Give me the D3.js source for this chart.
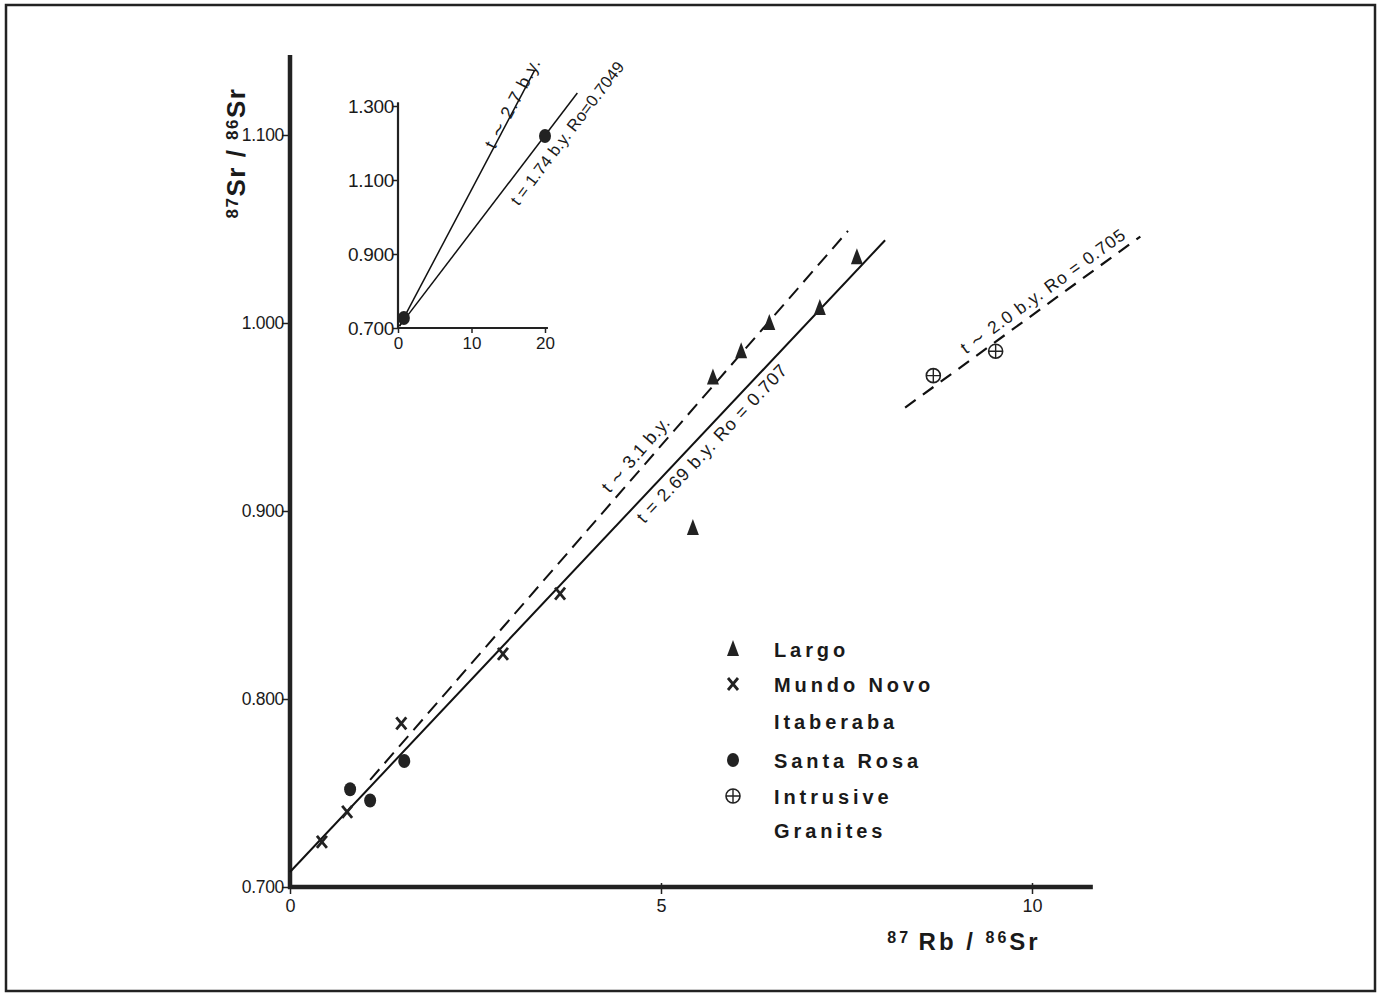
<!DOCTYPE html>
<html>
<head>
<meta charset="utf-8">
<script src="https://cdn.jsdelivr.net/npm/d3@7"></script>
<style>
  body { margin: 0; background: #fff; }
  text { font-family: "Liberation Sans", Arial, sans-serif; fill: #1a1a1a; }
</style>
</head>
<body>
<div id="chart"></div>
<script>
// values
let largo = [[5.43, 0.891], [5.70, 0.971], [6.08, 0.985], [6.46, 1.000], [7.14, 1.008], [7.64, 1.035]]
let mundoNovo = [[0.43, 0.724], [0.77, 0.740], [1.50, 0.787], [2.87, 0.824], [3.64, 0.856]]
let santaRosa = [[0.81, 0.752], [1.08, 0.746], [1.54, 0.767]]
let granites = [[8.67, 0.972], [9.51, 0.985]]

let solidLine = [[0, 0.708], [8.02, 1.044]]
let dashedLine = [[1.08, 0.757], [7.52, 1.049]]
let graniteLine = [[8.29, 0.955], [11.46, 1.046]]

let xTicks = [0, 5, 10]
let yTicks = [0.7, 0.8, 0.9, 1.0, 1.1]
let yTickLabels = ["0.700", "0.800", "0.900", "1.000", "1.100"]

// inset (Santa Rosa whole range)
let insetPoints = [[0.8, 0.727], [20, 1.219]]
let insetLine1 = [[0.2, 0.705], [18.6, 1.397]]
let insetLine2 = [[0.2, 0.705], [24.4, 1.335]]
let insetXTicks = [0, 10, 20]
let insetYTicks = [0.7, 0.9, 1.1, 1.3]
let insetYTickLabels = ["0.700", "0.900", "1.100", "1.300"]

let legendNames = ["Largo", "Mundo Novo", "Itaberaba", "Santa Rosa", "Intrusive", "Granites"]
let legendSymbols = ["tri", "x", null, "dot", "granite", null]

let W = 1384, H = 993
let svg = d3.select("#chart").append("svg")
    .attr("width", W)
    .attr("height", H)

// frame
svg.append("rect")
    .attr("x", 6).attr("y", 5)
    .attr("width", 1369).attr("height", 986)
    .attr("fill", "none")
    .attr("stroke", "#222")
    .attr("stroke-width", 2.5)

let x = d3.scaleLinear().domain([0, 10]).range([290, 1032])
let y = d3.scaleLinear().domain([0.7, 1.1]).range([887, 135])

// axes
let xAxis = d3.axisBottom(x).tickValues(xTicks).tickSize(7).tickFormat(d3.format("d"))
let gx = svg.append("g")
    .attr("transform", "translate(0," + y(0.7) + ")")
    .call(xAxis)
gx.select(".domain").remove()
gx.selectAll("line").attr("stroke", "#222").attr("stroke-width", 1.5).attr("y1", -4)
gx.selectAll("text").attr("font-size", 18).attr("dy", "0.9em").attr("y", 9)
svg.append("line")
    .attr("x1", x(0) - 2).attr("x2", x(10.82))
    .attr("y1", y(0.7)).attr("y2", y(0.7))
    .attr("stroke", "#222").attr("stroke-width", 4.5)

let yAxis = d3.axisLeft(y).tickValues(yTicks).tickSize(8)
    .tickFormat((d, i) => yTickLabels[i])
let gy = svg.append("g")
    .attr("transform", "translate(" + x(0) + ",0)")
    .call(yAxis)
gy.select(".domain").remove()
gy.selectAll("line").attr("stroke", "#222").attr("stroke-width", 1.5)
gy.selectAll("text").attr("font-size", 17.5).attr("letter-spacing", -0.3).attr("x", -6)
svg.append("line")
    .attr("x1", x(0)).attr("x2", x(0))
    .attr("y1", y(0.7) + 2).attr("y2", y(1.1426))
    .attr("stroke", "#222").attr("stroke-width", 4.5)

// axis titles
let yTitle = svg.append("text")
    .attr("transform", "translate(245,153) rotate(-90)")
    .attr("text-anchor", "middle")
    .attr("font-size", 26)
    .attr("font-weight", "bold")
    .attr("letter-spacing", 1.5)
yTitle.append("tspan").text("87").attr("font-size", 17).attr("baseline-shift", "40%")
yTitle.append("tspan").text("Sr / ")
yTitle.append("tspan").text("86").attr("font-size", 17).attr("baseline-shift", "40%")
yTitle.append("tspan").text("Sr")

let xTitle = svg.append("text")
    .attr("x", 964).attr("y", 950)
    .attr("text-anchor", "middle")
    .attr("font-size", 24)
    .attr("font-weight", "bold")
    .attr("letter-spacing", 3)
xTitle.append("tspan").text("87 ").attr("font-size", 16).attr("baseline-shift", "45%")
xTitle.append("tspan").text("Rb / ")
xTitle.append("tspan").text("86").attr("font-size", 16).attr("baseline-shift", "45%")
xTitle.append("tspan").text("Sr")

// isochron lines
let line = d3.line().x(d => x(d[0])).y(d => y(d[1]))
svg.append("path").attr("d", line(solidLine))
    .attr("fill", "none").attr("stroke", "#111").attr("stroke-width", 2)
svg.append("path").attr("d", line(dashedLine))
    .attr("fill", "none").attr("stroke", "#111").attr("stroke-width", 2)
    .attr("stroke-dasharray", "14,8")
svg.append("path").attr("d", line(graniteLine))
    .attr("fill", "none").attr("stroke", "#111").attr("stroke-width", 2.2)
    .attr("stroke-dasharray", "13,9")

function angleOf(seg, sx, sy) {
    let dx = sx(seg[1][0]) - sx(seg[0][0])
    let dy = sy(seg[1][1]) - sy(seg[0][1])
    return Math.atan2(dy, dx) * 180 / Math.PI
}

function lineLabel(txt, at, seg, sx, sy, size, spacing) {
    svg.append("text")
        .attr("transform", "translate(" + sx(at[0]) + "," + sy(at[1]) + ") rotate(" + angleOf(seg, sx, sy) + ")")
        .attr("text-anchor", "middle")
        .attr("dominant-baseline", "central")
        .attr("font-size", size)
        .attr("letter-spacing", spacing || 0)
        .text(txt)
}

lineLabel("t ∼ 3.1 b.y.", [4.66, 0.930], dashedLine, x, y, 18, 0.5)
lineLabel("t = 2.69 b.y.  Ro = 0.707", [5.69, 0.936], solidLine, x, y, 18, 1)
lineLabel("t ∼ 2.0 b.y.  Ro = 0.705", [10.15, 1.017], graniteLine, x, y, 17.5, 1)

// symbols
function drawSymbol(g, kind, px, py) {
    if (kind === "tri") {
        g.append("path")
            .attr("d", "M0,-9L6,7L-6,7Z")
            .attr("transform", "translate(" + px + "," + py + ")")
            .attr("fill", "#222")
    } else if (kind === "x") {
        g.append("path")
            .attr("d", "M-5,-6L5,6M5,-6L-5,6")
            .attr("transform", "translate(" + px + "," + py + ")")
            .attr("stroke", "#222").attr("stroke-width", 2.8).attr("fill", "none")
    } else if (kind === "dot") {
        g.append("ellipse")
            .attr("cx", px).attr("cy", py).attr("rx", 6).attr("ry", 7)
            .attr("fill", "#222")
    } else if (kind === "granite") {
        g.append("circle").attr("cx", px).attr("cy", py).attr("r", 7)
            .attr("fill", "#fff").attr("stroke", "#222").attr("stroke-width", 1.6)
        g.append("path")
            .attr("d", "M-7,0H7M0,-7V7")
            .attr("transform", "translate(" + px + "," + py + ")")
            .attr("stroke", "#222").attr("stroke-width", 1.4)
    }
}

let pts = svg.append("g")
largo.forEach(d => drawSymbol(pts, "tri", x(d[0]), y(d[1])))
mundoNovo.forEach(d => drawSymbol(pts, "x", x(d[0]), y(d[1])))
santaRosa.forEach(d => drawSymbol(pts, "dot", x(d[0]), y(d[1])))
granites.forEach(d => drawSymbol(pts, "granite", x(d[0]), y(d[1])))

// legend
let legend = svg.append("g")
let legendY = [650, 685, 722, 761, 797, 831]
legendNames.forEach((name, i) => {
    if (legendSymbols[i]) drawSymbol(legend, legendSymbols[i], 733, legendY[i] - 1)
    legend.append("text")
        .attr("x", 774).attr("y", legendY[i])
        .attr("dominant-baseline", "central")
        .attr("font-size", 20)
        .attr("font-weight", "bold")
        .attr("letter-spacing", 3.9)
        .text(name)
})

// inset
let ix = d3.scaleLinear().domain([0, 20]).range([398, 545])
let iy = d3.scaleLinear().domain([0.7, 1.3]).range([328, 106])

let igx = svg.append("g")
    .attr("transform", "translate(0," + iy(0.7) + ")")
    .call(d3.axisBottom(ix).tickValues(insetXTicks).tickSize(5).tickFormat(d3.format("d")))
igx.select(".domain").remove()
igx.selectAll("line").attr("stroke", "#222").attr("stroke-width", 1.5)
igx.selectAll("text").attr("font-size", 17).attr("y", 9)
svg.append("line")
    .attr("x1", ix(0)).attr("x2", ix(20.4))
    .attr("y1", iy(0.7)).attr("y2", iy(0.7))
    .attr("stroke", "#222").attr("stroke-width", 2.2)

let igy = svg.append("g")
    .attr("transform", "translate(" + ix(0) + ",0)")
    .call(d3.axisLeft(iy).tickValues(insetYTicks).tickSize(5).tickFormat((d, i) => insetYTickLabels[i]))
igy.select(".domain").remove()
igy.selectAll("line").attr("stroke", "#222").attr("stroke-width", 1.5)
igy.selectAll("text").attr("font-size", 19).attr("letter-spacing", -0.3).attr("x", -4)
svg.append("line")
    .attr("x1", ix(0)).attr("x2", ix(0))
    .attr("y1", iy(0.7)).attr("y2", iy(1.31))
    .attr("stroke", "#222").attr("stroke-width", 2.2)

svg.append("path").attr("d", d3.line().x(d => ix(d[0])).y(d => iy(d[1]))(insetLine1))
    .attr("fill", "none").attr("stroke", "#111").attr("stroke-width", 1.5)
svg.append("path").attr("d", d3.line().x(d => ix(d[0])).y(d => iy(d[1]))(insetLine2))
    .attr("fill", "none").attr("stroke", "#111").attr("stroke-width", 1.5)
insetPoints.forEach(d => drawSymbol(svg, "dot", ix(d[0]), iy(d[1])))

lineLabel("t ∼ 2.7 b.y.", [15.6, 1.308], insetLine1, ix, iy, 18, 1)
lineLabel("t = 1.74 b.y.  Ro=0.7049", [23.0, 1.227], insetLine2, ix, iy, 16.5, 0.2)
</script>
</body>
</html>
